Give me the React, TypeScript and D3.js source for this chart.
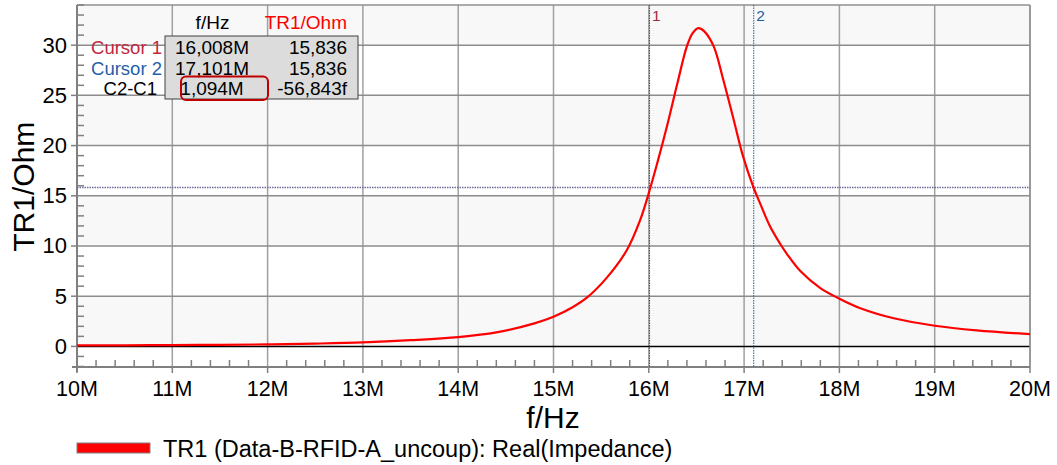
import React from "react";
import * as d3 from "d3";

const freqM = [10, 10.5, 11, 11.5, 12, 12.5, 13, 13.5, 14, 14.4, 14.8, 15, 15.2, 15.35, 15.56, 15.77, 15.91, 16.01, 16.09, 16.19, 16.3, 16.4, 16.46, 16.52, 16.58, 16.68, 16.78, 16.89, 16.99, 17.1, 17.17, 17.27, 17.38, 17.45, 17.59, 17.8, 18, 18.22, 18.57, 19, 19.44, 20];
const realOhm = [0.1, 0.11, 0.13, 0.16, 0.2, 0.28, 0.4, 0.62, 0.93, 1.4, 2.3, 2.95, 3.9, 4.85, 6.85, 9.6, 12.6, 15.6, 18.3, 21.9, 26.2, 29.9, 31.2, 31.7, 31.4, 29.9, 26.6, 22.6, 18.9, 15.8, 14.2, 12.0, 10.2, 9.2, 7.5, 5.8, 4.75, 3.8, 2.8, 2.06, 1.6, 1.23];

const xTicks = [10, 11, 12, 13, 14, 15, 16, 17, 18, 19, 20];
const xTickLabels = ["10M", "11M", "12M", "13M", "14M", "15M", "16M", "17M", "18M", "19M", "20M"];
const yTicks = [0, 5, 10, 15, 20, 25, 30];

const cursor1F = 16.008;
const cursor2F = 17.101;
const cursorLevel = 15.836;

const tableHeader = ["f/Hz", "TR1/Ohm"];
const tableRows = [
  { name: "Cursor 1", f: "16,008M", v: "15,836" },
  { name: "Cursor 2", f: "17,101M", v: "15,836" },
  { name: "C2-C1", f: "1,094M", v: "-56,843f" },
];
const legendLabel = "TR1 (Data-B-RFID-A_uncoup): Real(Impedance)";

const W = 1057, H = 465;
const L = 77, R = 1030, T = 5, B = 367;
const FONT = "Liberation Sans, Arial, sans-serif";

export default function App() {
  const x = d3.scaleLinear().domain([10, 20]).range([L, R]);
  const y = d3.scaleLinear().domain([-2.05, 34]).range([B, T]);
  const line = d3
    .line<number>()
    .x((_, i) => x(freqM[i]))
    .y((d) => y(d))
    .curve(d3.curveCatmullRom.alpha(0.5));

  const bands: number[] = [-2.05, 0, 5, 10, 15, 20, 25, 30, 34];
  const minorX = d3.range(10, 20.001, 0.2).filter((v) => Math.abs(v - Math.round(v)) > 0.01);
  const minorY = d3.range(-2, 34.001, 1).filter((v) => v % 5 !== 0);

  const rowColors = ["#c0283c", "#1f5fa8", "#000"];
  const rowY = [54, 74.5, 95];
  const nameRight = [162, 162, 157];

  return (
    <svg width={W} height={H} style={{ position: "absolute", left: 0, top: 0, background: "#fff" }} fontFamily={FONT}>
      {bands.slice(0, -1).map((b, i) => (
        <rect key={"b" + i} x={L} width={R - L} y={y(bands[i + 1])} height={y(b) - y(bands[i + 1])}
          fill={i % 2 === 1 ? "#f8f8f8" : "#ffffff"} />
      ))}
      {xTicks.map((t) => (
        <line key={"gx" + t} x1={x(t)} x2={x(t)} y1={T} y2={B} stroke="#a0a0a0" strokeWidth={1.5} />
      ))}
      {yTicks.map((t) => (
        <line key={"gy" + t} x1={L} x2={R} y1={y(t)} y2={y(t)} stroke={t === 0 ? "#000" : "#8c8c8c"} strokeWidth={1.5} />
      ))}
      <line x1={L} x2={R} y1={T} y2={T} stroke="#909090" strokeWidth={1.5} />
      <line x1={R} x2={R} y1={T} y2={B} stroke="#909090" strokeWidth={1.5} />
      <line x1={L} x2={L} y1={T} y2={B + 5} stroke="#808080" strokeWidth={2} />
      <line x1={L - 5} x2={R} y1={B} y2={B} stroke="#808080" strokeWidth={2} />
      {minorX.map((t, i) => (
        <line key={"mx" + i} x1={x(t)} x2={x(t)} y1={B} y2={B - 7} stroke="#808080" strokeWidth={1.5} />
      ))}
      {minorY.map((t, i) => (
        <line key={"my" + i} x1={L} x2={L + 7} y1={y(t)} y2={y(t)} stroke="#808080" strokeWidth={1.5} />
      ))}
      {xTicks.map((t) => (
        <line key={"tx" + t} x1={x(t)} x2={x(t)} y1={B} y2={B + 6} stroke="#808080" strokeWidth={1.5} />
      ))}
      {yTicks.map((t) => (
        <line key={"ty" + t} x1={L - 6} x2={L} y1={y(t)} y2={y(t)} stroke="#808080" strokeWidth={1.5} />
      ))}
      {xTicks.map((t, i) => (
        <text key={"lx" + t} x={x(t)} y={396} textAnchor="middle" fontSize={21.5} fill="#000">{xTickLabels[i]}</text>
      ))}
      {yTicks.map((t) => (
        <text key={"ly" + t} x={67} y={y(t) + 7.5} textAnchor="end" fontSize={22} fill="#000">{t}</text>
      ))}
      <text x={553} y={428} textAnchor="middle" fontSize={30} fill="#000">f/Hz</text>
      <text transform={`translate(33.5,186.7) rotate(-90)`} textAnchor="middle" fontSize={30} fill="#000">TR1/Ohm</text>
      <line x1={L} x2={R} y1={y(cursorLevel)} y2={y(cursorLevel)} stroke="#6c6c9c" strokeWidth={1.5} strokeDasharray="1.5,1" />
      <line x1={x(cursor1F)} x2={x(cursor1F)} y1={T} y2={B} stroke="#a0283c" strokeWidth={1} strokeDasharray="1.5,1" />
      <line x1={x(cursor2F)} x2={x(cursor2F)} y1={T} y2={B} stroke="#1f5fa8" strokeWidth={1} strokeDasharray="1.5,1" />
      <text x={x(cursor1F) + 2.5} y={21} fontSize={15.5} fill="#a0283c">1</text>
      <text x={x(cursor2F) + 2.5} y={21} fontSize={15.5} fill="#1f5fa8">2</text>
      <path d={line(realOhm) ?? ""} fill="none" stroke="#ff0000" strokeWidth={2.2} />
      <rect x={165} y={36} width={193} height={63} fill="#dcdcdc" stroke="#404040" strokeWidth={1} />
      <text x={212.5} y={28.5} textAnchor="middle" fontSize={19} fill="#000">{tableHeader[0]}</text>
      <text x={347} y={28.5} textAnchor="end" fontSize={19} fill="#ff0000">{tableHeader[1]}</text>
      {tableRows.map((r, i) => (
        <g key={"row" + i}>
          <text x={nameRight[i]} y={rowY[i]} textAnchor="end" fontSize={18.5} fill={rowColors[i]}>{r.name}</text>
          <text x={212} y={rowY[i]} textAnchor="middle" fontSize={19} fill="#000">{r.f}</text>
          <text x={347} y={rowY[i]} textAnchor="end" fontSize={19} fill="#000">{r.v}</text>
        </g>
      ))}
      <rect x={181} y={76.5} width={87} height={23.5} rx={5} fill="none" stroke="#c00000" strokeWidth={2} />
      <rect x={77} y={443} width={73} height={10} fill="#ff0000" stroke="#808080" strokeWidth={1} />
      <text x={163} y={456.5} fontSize={23.5} fill="#000">{legendLabel}</text>
    </svg>
  );
}
